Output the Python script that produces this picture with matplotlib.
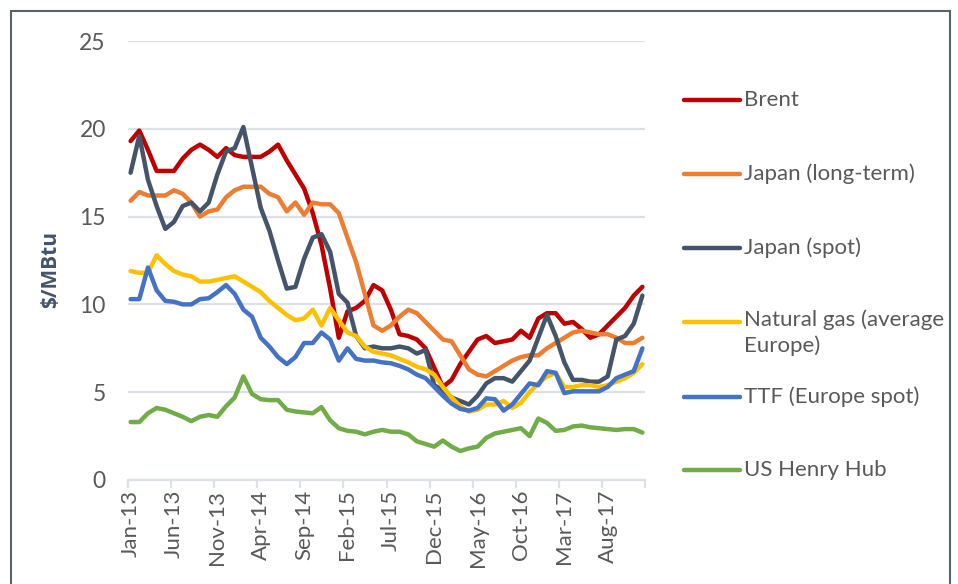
import numpy as np
import matplotlib
matplotlib.use("Agg")
import matplotlib.pyplot as plt
from matplotlib.lines import Line2D
from matplotlib.patches import Rectangle

plt.rcParams['font.family'] = ['Lato', 'DejaVu Sans']

# monthly data, Jan-13 .. Dec-17 ($/MBtu)
months = ['Jan', 'Feb', 'Mar', 'Apr', 'May', 'Jun',
          'Jul', 'Aug', 'Sep', 'Oct', 'Nov', 'Dec']
dates = ['%s-%d' % (m, y) for y in range(13, 18) for m in months]

brent = [19.3, 19.9, 18.8, 17.6, 17.6, 17.6, 18.3, 18.8, 19.1, 18.8,
         18.4, 18.9, 18.5, 18.4, 18.4, 18.4, 18.7, 19.1, 18.2, 17.4,
         16.6, 15.2, 13.4, 10.9, 8.1, 9.6, 9.8, 10.2, 11.1, 10.8,
         9.7, 8.3, 8.2, 8.0, 7.5, 6.4, 5.3, 5.7, 6.6, 7.3,
         8.0, 8.2, 7.8, 7.9, 8.0, 8.5, 8.1, 9.2, 9.5, 9.5,
         8.9, 9.0, 8.6, 8.1, 8.3, 8.8, 9.3, 9.8, 10.5, 11.0]
japan_lt = [15.9, 16.4, 16.2, 16.2, 16.2, 16.5, 16.3, 15.8, 15.0, 15.3,
            15.4, 16.1, 16.5, 16.7, 16.7, 16.7, 16.3, 16.1, 15.3, 15.8,
            15.1, 15.8, 15.7, 15.7, 15.2, 13.8, 12.4, 10.6, 8.8, 8.5,
            8.8, 9.3, 9.7, 9.5, 9.0, 8.5, 8.0, 7.9, 7.1, 6.3,
            6.0, 5.9, 6.2, 6.5, 6.8, 7.0, 7.1, 7.1, 7.5, 7.8,
            8.1, 8.4, 8.5, 8.4, 8.3, 8.3, 8.1, 7.8, 7.8, 8.1]
japan_spot = [17.5, 19.6, 17.1, 15.6, 14.3, 14.7, 15.6, 15.8, 15.3, 15.8,
              17.4, 18.7, 18.9, 20.1, 17.8, 15.5, 14.2, 12.5, 10.9, 11.0,
              12.6, 13.8, 14.0, 13.0, 10.6, 10.1, 8.2, 7.5, 7.6, 7.5,
              7.5, 7.6, 7.5, 7.2, 7.4, 5.4, 5.1, 4.7, 4.5, 4.3,
              4.8, 5.5, 5.8, 5.8, 5.6, 6.2, 6.8, 8.1, 9.4, 8.2,
              6.7, 5.7, 5.7, 5.6, 5.6, 5.9, 8.0, 8.2, 8.9, 10.5]
gas_europe = [11.9, 11.8, 11.8, 12.8, 12.3, 11.9, 11.7, 11.6, 11.3, 11.3,
              11.4, 11.5, 11.6, 11.3, 11.0, 10.7, 10.2, 9.8, 9.4, 9.1,
              9.2, 9.7, 8.8, 9.8, 9.1, 8.4, 8.2, 7.6, 7.3, 7.2,
              7.1, 6.9, 6.7, 6.45, 6.3, 6.0, 5.3, 4.7, 4.2, 3.9,
              4.0, 4.3, 4.3, 4.5, 4.1, 4.4, 5.0, 5.5, 5.9, 6.1,
              5.3, 5.3, 5.4, 5.4, 5.3, 5.4, 5.6, 5.8, 6.1, 6.6]
ttf = [10.3, 10.3, 12.1, 10.8, 10.2, 10.15, 10.0, 10.0, 10.3, 10.35,
       10.7, 11.1, 10.6, 9.7, 9.3, 8.1, 7.6, 7.0, 6.6, 7.0,
       7.8, 7.8, 8.4, 8.0, 6.8, 7.5, 6.9, 6.8, 6.8, 6.7,
       6.65, 6.5, 6.3, 6.0, 5.8, 5.3, 4.8, 4.35, 4.05, 3.95,
       4.1, 4.65, 4.6, 3.95, 4.3, 4.9, 5.5, 5.4, 6.2, 6.1,
       4.95, 5.05, 5.05, 5.05, 5.05, 5.3, 5.8, 6.0, 6.2, 7.5]
henry_hub = [3.3, 3.3, 3.8, 4.1, 4.0, 3.8, 3.6, 3.35, 3.6, 3.7,
             3.6, 4.2, 4.7, 5.9, 4.9, 4.6, 4.55, 4.55, 4.0, 3.9,
             3.85, 3.8, 4.15, 3.4, 2.95, 2.8, 2.75, 2.6, 2.75, 2.85,
             2.75, 2.75, 2.6, 2.2, 2.05, 1.9, 2.25, 1.9, 1.65, 1.8,
             1.9, 2.4, 2.65, 2.75, 2.85, 2.95, 2.5, 3.5, 3.25, 2.8,
             2.85, 3.05, 3.1, 3.0, 2.95, 2.9, 2.85, 2.9, 2.9, 2.7]

series = [
    ('Brent', brent, '#C00000'),
    ('Japan (long-term)', japan_lt, '#ED7D31'),
    ('Japan (spot)', japan_spot, '#44546A'),
    ('Natural gas (average\nEurope)', gas_europe, '#FFC000'),
    ('TTF (Europe spot)', ttf, '#4472C4'),
    ('US Henry Hub', henry_hub, '#70AD47'),
]

text_col = '#595959'
grid_col = '#DCE1E8'
W, H = 958, 584

fig = plt.figure(figsize=(W / 100, H / 100), dpi=100)
ax = fig.add_axes([128 / W, 1 - 480 / H, 517 / W, 439 / H])

x = np.arange(len(dates))
for name, vals, col in series:
    ax.plot(x, vals, color=col, lw=3.2, solid_joinstyle='round',
            solid_capstyle='round')

ax.set_ylim(0, 25)
ax.set_xlim(-0.3, len(dates) - 0.7)
ax.set_yticks(range(0, 26, 5))
ax.grid(axis='y', color=grid_col, lw=1.6)
ax.set_axisbelow(True)
for s in ['top', 'right', 'left']:
    ax.spines[s].set_visible(False)
ax.spines['bottom'].set_color(grid_col)
ax.spines['bottom'].set_linewidth(1.6)

ax.tick_params(axis='y', length=0, pad=16, labelsize=16.5, labelcolor=text_col)
ax.set_xticks(x[::5])
ax.set_xticklabels(dates[::5], rotation=90)
ax.tick_params(axis='x', length=0, pad=7, labelsize=16, labelcolor=text_col)
ax.set_xticks(np.arange(-0.3, len(dates), 5 * (len(dates) - 0.4) / 60), minor=True)
ax.tick_params(axis='x', which='minor', length=6, width=1.6, color=grid_col)

ax.set_ylabel('$/MBtu', fontsize=15, fontweight='bold', color='#44546A',
              family=['Open Sans', 'DejaVu Sans'])
ax.yaxis.set_label_coords(-0.13, 0.48)

# legend, drawn by hand so the two-line entry keeps its marker on line one
legend_y = [100, 174, 248, 322, 397, 470]
for (name, vals, col), ly in zip(series, legend_y):
    fy = 1 - ly / H
    fig.add_artist(Line2D([684 / W, 740 / W], [fy, fy], color=col, lw=3.2,
                          solid_capstyle='round'))
    if '\n' in name:
        fig.text(744 / W, 1 - (ly - 13) / H, name, fontsize=16,
                 color=text_col, va='top', linespacing=1.35)
    else:
        fig.text(744 / W, fy, name, fontsize=16, color=text_col,
                 va='center')

# chart area border
fig.add_artist(Rectangle((11 / W, -0.05), (950 - 11) / W, 1.05 - 11 / H,
                         fill=False, ec='#59636E', lw=1.5,
                         transform=fig.transFigure))

fig.savefig('out.png', dpi=100)
